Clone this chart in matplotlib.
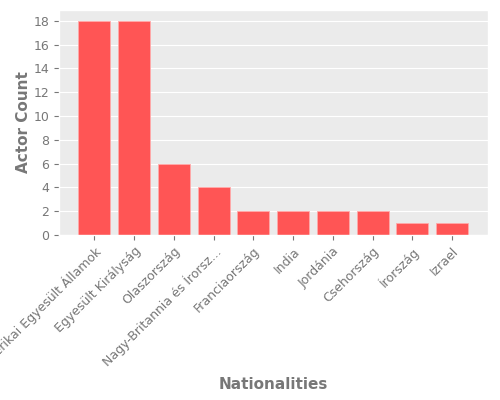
import matplotlib
matplotlib.use('Agg')
import matplotlib.pyplot as plt

plt.style.use('ggplot')

countries = ['Amerikai Egyesült Államok', 'Egyesült Királyság', 'Olaszország',
             'Nagy-Britannia és Írorsz...', 'Franciaország', 'India', 'Jordánia',
             'Csehország', 'Írország', 'Izrael']
counts = [18, 18, 6, 4, 2, 2, 2, 2, 1, 1]

fig = plt.figure(figsize=(5, 4), dpi=100)
ax = fig.add_axes([0.118, 0.4125, 0.857, 0.5625])
ax.set_facecolor('#ebebeb')
ax.bar(range(len(countries)), counts, width=0.8, color='#ff5555',
       edgecolor='#ffaaaa', linewidth=0.6)
ax.set_xticks(range(len(countries)))
ax.set_xticklabels(countries, rotation=45, ha='right', rotation_mode='anchor',
                   fontsize=9, color='#777777')
ax.set_yticks(range(0, 19, 2))
ax.tick_params(axis='y', labelsize=9, colors='#777777')
ax.tick_params(axis='x', colors='#777777')
ax.grid(axis='x', visible=False)
ax.set_ylabel('Actor Count', fontsize=11, color='#777777', fontweight='bold', labelpad=2)
ax.set_xlabel('Nationalities', fontsize=11, color='#777777', fontweight='bold', labelpad=3)

fig.savefig('out.png', dpi=100)
